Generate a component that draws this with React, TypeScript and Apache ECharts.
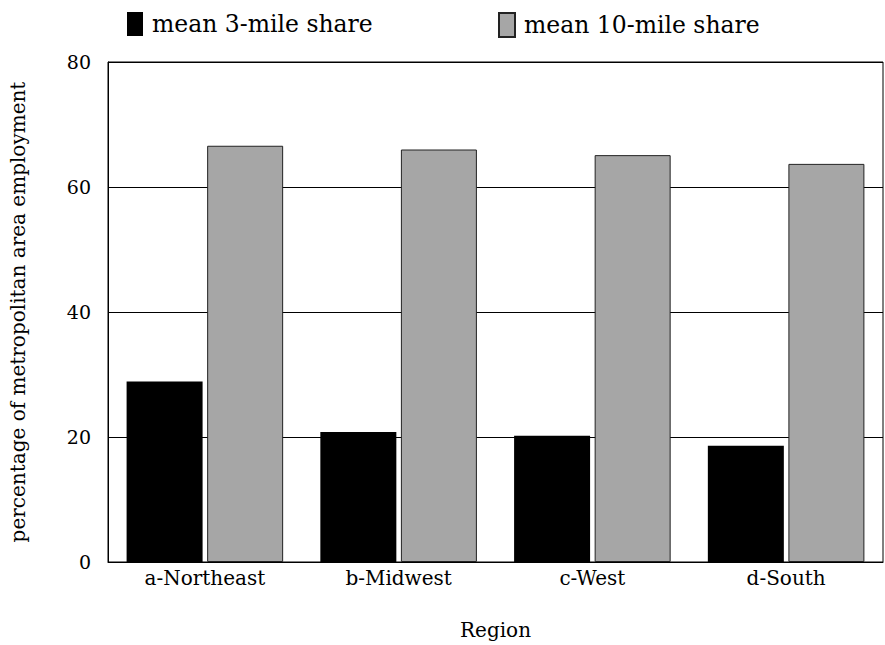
import React, { useEffect, useRef } from "react";
import * as echarts from "echarts";

const categories = ["a-Northeast", "b-Midwest", "c-West", "d-South"];
const mean3Mile = [28.9, 20.8, 20.2, 18.6];
const mean10Mile = [66.6, 66.0, 65.1, 63.7];
const seriesNames = ["mean 3-mile share", "mean 10-mile share"];

const FONT = "'DejaVu Serif', 'Liberation Serif', serif";

export default function App() {
  const ref = useRef<HTMLDivElement>(null);
  useEffect(() => {
    if (!ref.current) return;
    const chart = echarts.init(ref.current, null, { renderer: "svg" });
    const legendText = {
      fontFamily: FONT,
      fontSize: 23.5,
      color: "#000",
      padding: [0, 0, 0, 4],
    };
    chart.setOption({
      animation: false,
      textStyle: { fontFamily: FONT, color: "#000" },
      legend: [
        {
          data: [seriesNames[0]],
          left: 122,
          top: 7,
          itemWidth: 16,
          itemHeight: 24,
          itemGap: 8,
          icon: "rect",
          textStyle: legendText,
        },
        {
          data: [seriesNames[1]],
          left: 493,
          top: 7,
          itemWidth: 16,
          itemHeight: 24,
          itemGap: 8,
          icon: "rect",
          textStyle: legendText,
        },
      ],
      grid: {
        left: 107,
        width: 776,
        top: 62,
        height: 502,
        show: true,
        borderColor: "#000",
        borderWidth: 1,
        containLabel: false,
      },
      xAxis: {
        type: "category",
        data: categories,
        name: "Region",
        nameLocation: "middle",
        nameGap: 58,
        nameTextStyle: { fontFamily: FONT, fontSize: 20, color: "#000" },
        axisLine: { show: true, lineStyle: { color: "#000" } },
        axisTick: { show: false },
        axisLabel: { fontFamily: FONT, fontSize: 20, color: "#000", margin: 6 },
      },
      yAxis: {
        type: "value",
        min: 0,
        max: 80,
        interval: 20,
        name: "percentage of metropolitan area employment",
        nameLocation: "middle",
        nameGap: 80,
        nameTextStyle: { fontFamily: FONT, fontSize: 20, color: "#000" },
        axisLine: { show: true, lineStyle: { color: "#000" } },
        axisTick: { show: false },
        axisLabel: { fontFamily: FONT, fontSize: 19, color: "#000", margin: 17 },
        splitLine: { show: true, lineStyle: { color: "#000", width: 1 } },
      },
      series: [
        {
          name: seriesNames[0],
          type: "bar",
          data: mean3Mile,
          barWidth: 76,
          barGap: "6%",
          itemStyle: { color: "#000", borderColor: "#000", borderWidth: 0 },
        },
        {
          name: seriesNames[1],
          type: "bar",
          data: mean10Mile,
          barWidth: 76,
          barGap: "6%",
          itemStyle: { color: "#a6a6a6", borderColor: "#222", borderWidth: 1 },
        },
      ],
    });
    return () => chart.dispose();
  }, []);
  return (
    <div
      ref={ref}
      style={{ position: "absolute", left: 0, top: 0, width: 885, height: 645 }}
    />
  );
}
